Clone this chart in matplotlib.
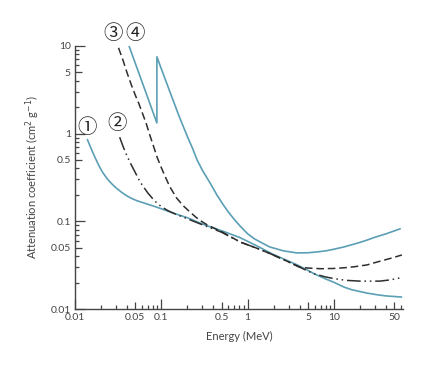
import numpy as np
import matplotlib.pyplot as plt
from matplotlib.ticker import FixedLocator, NullFormatter

# curve 1 (solid blue, low Z)
e1 = [0.014, 0.015, 0.016, 0.018, 0.019, 0.021, 0.024, 0.027, 0.03, 0.035,
      0.04, 0.045, 0.052, 0.065, 0.08, 0.1, 0.126, 0.16, 0.2, 0.27, 0.35,
      0.52, 0.82, 1.3, 1.97, 3.7, 5, 6, 8, 9.8, 13, 16, 20, 24, 32, 40, 60]
v1 = [0.85, 0.72, 0.62, 0.48, 0.43, 0.36, 0.30, 0.265, 0.24, 0.213,
      0.195, 0.183, 0.172, 0.16, 0.15, 0.139, 0.128, 0.118, 0.11, 0.097, 0.088,
      0.077, 0.065, 0.052, 0.042, 0.032, 0.0275, 0.025, 0.022, 0.0203, 0.0178,
      0.0166, 0.0158, 0.0152, 0.0145, 0.0141, 0.0137]

# curve 2 (dash-dot)
e2 = [0.033, 0.036, 0.04, 0.045, 0.05, 0.055, 0.06, 0.07, 0.08, 0.09, 0.1,
      0.12, 0.137, 0.17, 0.2, 0.27, 0.35, 0.5, 0.82, 1.3, 1.8, 2.7, 4, 5, 6,
      8, 10, 14, 20, 34, 45, 60]
v2 = [0.91, 0.72, 0.56, 0.44, 0.36, 0.30, 0.26, 0.21, 0.18, 0.16, 0.147,
      0.132, 0.124, 0.114, 0.107, 0.095, 0.086, 0.075, 0.058, 0.049, 0.043,
      0.036, 0.030, 0.027, 0.025, 0.0232, 0.0222, 0.0212, 0.0208, 0.0208,
      0.0215, 0.0228]

# curve 3 (dashed)
e3 = [0.032, 0.036, 0.04, 0.045, 0.05, 0.055, 0.06, 0.067, 0.074, 0.082,
      0.09, 0.1, 0.11, 0.125, 0.15, 0.18, 0.22, 0.27, 0.34, 0.5, 0.82, 1.3,
      1.8, 2.7, 4, 5, 7, 10, 13, 17, 24, 32, 45, 61]
v3 = [9.5, 6.9, 5.0, 3.6, 2.75, 2.2, 1.75, 1.3, 0.95, 0.7,
      0.53, 0.41, 0.33, 0.25, 0.185, 0.15, 0.125, 0.105, 0.091, 0.076, 0.058,
      0.049, 0.043, 0.036, 0.030, 0.0293, 0.0288, 0.029, 0.0295, 0.0303,
      0.0318, 0.0345, 0.0378, 0.0413]

# curve 4 (solid blue, lead with K-edge)
e4 = [0.0423, 0.06, 0.089, 0.089, 0.1, 0.12, 0.137, 0.16, 0.18, 0.204, 0.23,
      0.26, 0.3, 0.37, 0.44, 0.52, 0.6, 0.7, 0.82, 1.0, 1.2, 1.5, 1.8, 2.6,
      3.7, 5, 6, 8, 9.9, 13, 16, 20, 24, 30, 40, 58]
v4 = [10, 3.87, 1.32, 7.5, 5.5, 3.4, 2.4, 1.6, 1.2, 0.89, 0.68,
      0.5, 0.38, 0.27, 0.2, 0.155, 0.127, 0.105, 0.088, 0.072, 0.063, 0.056,
      0.051, 0.046, 0.0436, 0.0438, 0.0445, 0.046, 0.048, 0.051, 0.054,
      0.0575, 0.061, 0.066, 0.072, 0.082]

labels = ["①", "②", "③", "④"]
label_pos = [(0.0138, 1.16), (0.0307, 1.29), (0.0276, 14.0), (0.0496, 14.0)]

x_ticks = [0.01, 0.05, 0.1, 0.5, 1, 5, 10, 50]
x_ticklabels = ["0.01", "0.05", "0.1", "0.5", "1", "5", "10", "50"]
y_ticks = [0.01, 0.05, 0.1, 0.5, 1, 5, 10]
y_ticklabels = ["0.01", "0.05", "0.1", "0.5", "1", "5", "10"]

blue = "#5b9fb5"
dark = "#2e2e2e"
grey = "#444444"

plt.rcParams['font.family'] = ['Lato', 'DejaVu Sans']

fig = plt.figure(figsize=(4.43, 3.67), dpi=100)
ax = fig.add_axes([0.169, 0.158, 0.741, 0.717])

ax.plot(e1, v1, color=blue, lw=1.2)
ax.plot(e2, v2, color=dark, lw=1.1, dashes=(9, 2.5, 1, 2.5, 1, 2.5))
ax.plot(e3, v3, color=dark, lw=1.1, dashes=(5, 2.5))
ax.plot(e4, v4, color=blue, lw=1.2)

ax.set_xscale('log')
ax.set_yscale('log')
ax.set_xlim(0.01, 63)
ax.set_ylim(0.01, 10)

for s in ['top', 'right']:
    ax.spines[s].set_visible(False)
for s in ['left', 'bottom']:
    ax.spines[s].set_color(grey)
    ax.spines[s].set_linewidth(1.0)

ax.xaxis.set_major_locator(FixedLocator(x_ticks))
ax.set_xticklabels(x_ticklabels)
ax.yaxis.set_major_locator(FixedLocator(y_ticks))
ax.set_yticklabels(y_ticklabels)

minor_x = [m * 10.0 ** d for d in range(-2, 2) for m in [2, 3, 4, 6, 7, 8, 9]]
minor_x = [v for v in minor_x if v <= 63]
minor_y = [m * 10.0 ** d for d in range(-2, 1) for m in [2, 3, 4, 6, 7, 8, 9]]
ax.xaxis.set_minor_locator(FixedLocator(minor_x))
ax.yaxis.set_minor_locator(FixedLocator(minor_y))
ax.xaxis.set_minor_formatter(NullFormatter())
ax.yaxis.set_minor_formatter(NullFormatter())

ax.tick_params(which='both', direction='in', color=grey, width=0.9,
               labelsize=7.5, labelcolor=grey, pad=3)
ax.tick_params(which='major', length=5)
ax.tick_params(which='minor', length=3)

# decade ticks are longer
for t in ax.xaxis.get_major_ticks() + ax.yaxis.get_major_ticks():
    frac = np.log10(t.get_loc()) % 1
    if np.isclose(frac, 0) or np.isclose(frac, 1):
        t.tick1line.set_markersize(7.5)

ax.set_xlabel("Energy (MeV)", fontsize=8, color=grey, labelpad=6)
ax.set_ylabel("Attenuation coefficient (cm$^2$ g$^{-1}$)", fontsize=8,
              color=grey, labelpad=6)

for lab, (x, y) in zip(labels, label_pos):
    ax.text(x, y, lab, fontsize=14, ha='center', va='center', color='#222222',
            family=['Noto Sans CJK JP', 'DejaVu Sans'], clip_on=False)

fig.savefig("out.png", dpi=100, facecolor='white')
